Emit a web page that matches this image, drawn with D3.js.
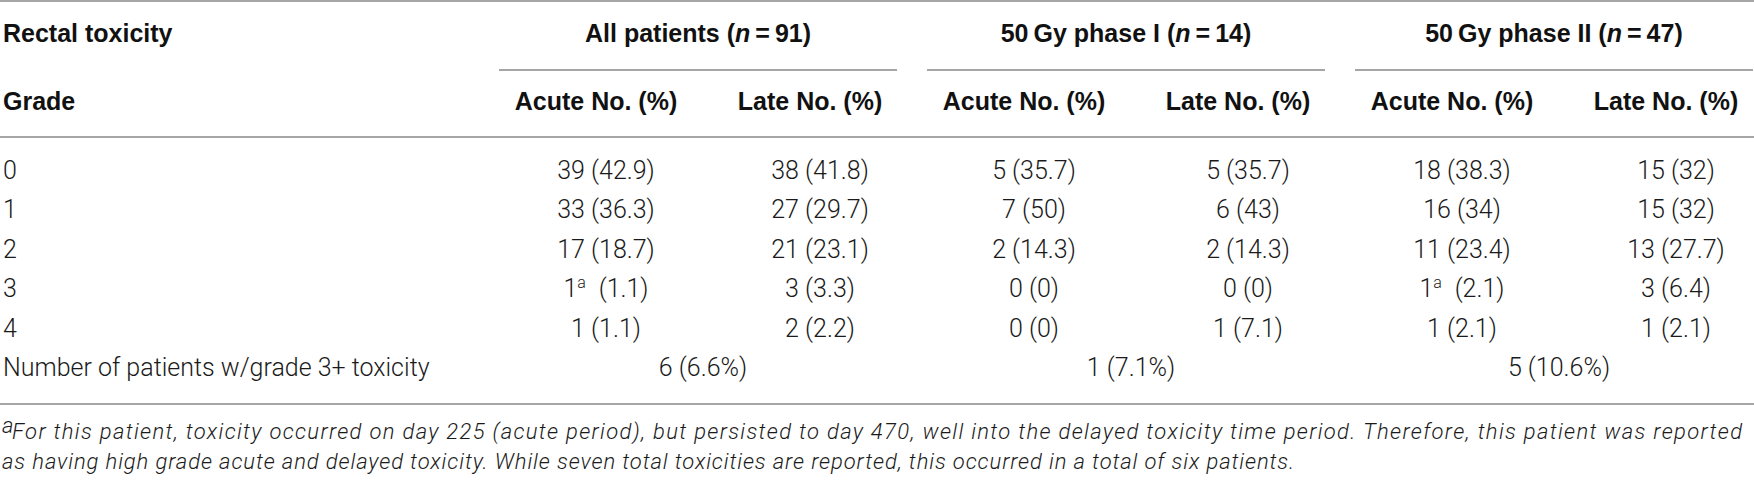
<!DOCTYPE html>
<html>
<head>
<meta charset="utf-8">
<script src="https://cdn.jsdelivr.net/npm/d3@7"></script>
<style>
  html, body { margin: 0; padding: 0; background: #fff; }
  svg { display: block; }
  .hd { font-family: "Liberation Sans", Arial, sans-serif; font-weight: bold; font-size: 25px; fill: #111; }
  .bd { font-family: Roboto, "Liberation Sans", sans-serif; font-weight: 300; font-size: 25px; fill: #1a1a1a; }
  .fn { font-family: Roboto, "Liberation Sans", sans-serif; font-weight: 300; font-style: italic; font-size: 22px; fill: #1a1a1a; }
</style>
</head>
<body>
<div id="chart"></div>
<script>
// table content
const grades = ['0', '1', '2', '3', '4'];
const groups = ['All patients', '50\u2009Gy phase I', '50\u2009Gy phase II'];
const groupN = [91, 14, 47];
const periods = ['Acute No. (%)', 'Late No. (%)'];

// counts and percents, one array per column (group x period)
const allAcuteN = [39, 33, 17, 1, 1];
const allAcuteP = [42.9, 36.3, 18.7, 1.1, 1.1];
const allLateN = [38, 27, 21, 3, 2];
const allLateP = [41.8, 29.7, 23.1, 3.3, 2.2];
const ph1AcuteN = [5, 7, 2, 0, 0];
const ph1AcuteP = [35.7, 50, 14.3, 0, 0];
const ph1LateN = [5, 6, 2, 0, 1];
const ph1LateP = [35.7, 43, 14.3, 0, 7.1];
const ph2AcuteN = [18, 16, 11, 1, 1];
const ph2AcuteP = [38.3, 34, 23.4, 2.1, 2.1];
const ph2LateN = [15, 15, 13, 3, 1];
const ph2LateP = [32, 32, 27.7, 6.4, 2.1];

// patients with grade 3+ toxicity, per group
const grade3N = [6, 1, 5];
const grade3P = [6.6, 7.1, 10.6];

// cells that carry the footnote marker: [column, grade row]
const marked = [[0, 3], [4, 3]];

const footLine1 = 'For this patient, toxicity occurred on day 225 (acute period), but persisted to day 470, well into the delayed toxicity time period. Therefore, this patient was reported';
const footLine2 = 'as having high grade acute and delayed toxicity. While seven total toxicities are reported, this occurred in a total of six patients.';

const columns = [
  [allAcuteN, allAcuteP], [allLateN, allLateP],
  [ph1AcuteN, ph1AcuteP], [ph1LateN, ph1LateP],
  [ph2AcuteN, ph2AcuteP], [ph2LateN, ph2LateP]
];

const width = 1754;
const height = 490;
const lineColor = '#a6a6a6';

const svg = d3.select('#chart')
  .append('svg')
  .attr('width', width)
  .attr('height', height);

const x = d3.scaleBand()
  .domain(groups)
  .range([499, 1753])
  .paddingInner(0.07);

const xSub = d3.scaleBand()
  .domain(periods)
  .range([-10, x.bandwidth() + 20]);

const rowKeys = grades.concat(['total']);
const y = d3.scalePoint()
  .domain(rowKeys)
  .range([170, 367]);

const base = (cy, size) => cy + size * 0.36;

// rules
const hline = (y0, x0, x1) => svg.append('line')
  .attr('x1', x0).attr('x2', x1)
  .attr('y1', y0).attr('y2', y0)
  .attr('stroke', lineColor)
  .attr('stroke-width', 2);

hline(1, 0, width);
hline(137, 0, width);
hline(404, 0, width);
groups.forEach(g => hline(70, x(g), x(g) + x.bandwidth()));

// header row 1
svg.append('text')
  .attr('class', 'hd')
  .attr('x', 3)
  .attr('y', base(33, 25))
  .text('Rectal toxicity');

groups.forEach((g, i) => {
  const t = svg.append('text')
    .attr('class', 'hd')
    .attr('x', x(g) + x.bandwidth() / 2)
    .attr('y', base(33, 25))
    .attr('text-anchor', 'middle');
  t.append('tspan').text(g + ' (');
  t.append('tspan').attr('font-style', 'italic').text('n');
  t.append('tspan').text('\u2009=\u2009' + groupN[i] + ')');
});

// header row 2
svg.append('text')
  .attr('class', 'hd')
  .attr('x', 3)
  .attr('y', base(101, 25))
  .text('Grade');

groups.forEach(g => {
  periods.forEach(p => {
    svg.append('text')
      .attr('class', 'hd')
      .attr('x', x(g) + xSub(p) + xSub.bandwidth() / 2)
      .attr('y', base(101, 25))
      .attr('text-anchor', 'middle')
      .text(p);
  });
});

// body
grades.forEach(gr => {
  svg.append('text')
    .attr('class', 'bd')
    .attr('x', 3)
    .attr('y', base(y(gr), 25))
    .text(gr);
});

svg.append('text')
  .attr('class', 'bd')
  .attr('x', 3)
  .attr('y', base(y('total'), 25))
  .text('Number of patients w/grade 3+ toxicity');

columns.forEach((col, ci) => {
  const g = groups[Math.floor(ci / 2)];
  const p = periods[ci % 2];
  const cx = x(g) + xSub(p) + xSub.bandwidth() / 2 + 10;
  grades.forEach((gr, ri) => {
    const t = svg.append('text')
      .attr('class', 'bd')
      .attr('x', cx)
      .attr('y', base(y(gr), 25))
      .attr('text-anchor', 'middle');
    t.append('tspan').text(col[0][ri]);
    if (marked.some(m => m[0] === ci && m[1] === ri)) {
      t.append('tspan')
        .attr('font-size', 16)
        .attr('dy', -9)
        .text('a');
      t.append('tspan').attr('dy', 9).text('\u2002(' + col[1][ri] + ')');
    } else {
      t.append('tspan').text(' (' + col[1][ri] + ')');
    }
  });
});

groups.forEach((g, i) => {
  svg.append('text')
    .attr('class', 'bd')
    .attr('x', x(g) + x.bandwidth() / 2 + 5)
    .attr('y', base(y('total'), 25))
    .attr('text-anchor', 'middle')
    .text(grade3N[i] + ' (' + grade3P[i] + '%)');
});

// footnote
svg.append('text')
  .attr('class', 'fn')
  .attr('x', 2)
  .attr('y', 433)
  .attr('font-size', 13)
  .text('a');

svg.append('text')
  .attr('class', 'fn')
  .attr('x', 12)
  .attr('y', 439)
  .attr('textLength', 1730)
  .attr('lengthAdjust', 'spacing')
  .text(footLine1);

svg.append('text')
  .attr('class', 'fn')
  .attr('x', 2)
  .attr('y', 469)
  .attr('letter-spacing', 0.9)
  .text(footLine2);
</script>
</body>
</html>
